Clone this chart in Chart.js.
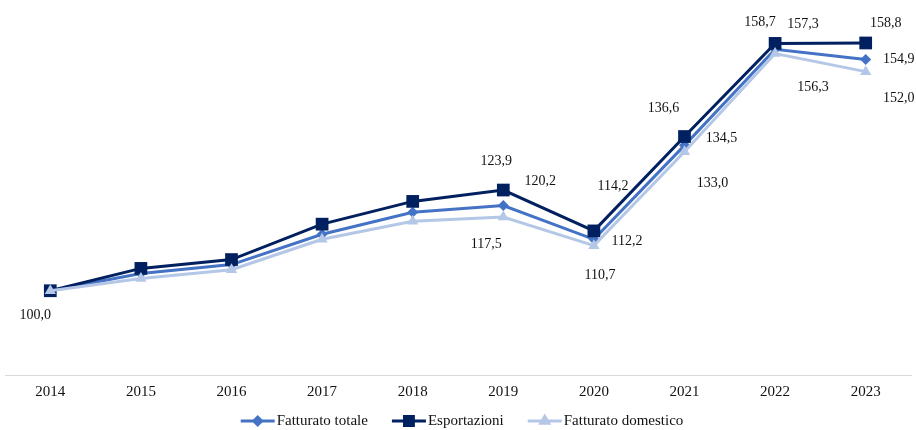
<!DOCTYPE html>
<html>
<head>
<meta charset="utf-8">
<script src="https://cdn.jsdelivr.net/npm/chart.js@4/dist/chart.umd.min.js"></script>
<style>
  html, body { margin: 0; padding: 0; background: #fff; }
  #wrap { width: 916px; height: 430px; }
</style>
</head>
<body>
<div id="wrap"><canvas id="chart" width="916" height="430"></canvas></div>
<script>
// data (index 2014 = 100)
const years = ['2014', '2015', '2016', '2017', '2018', '2019', '2020', '2021', '2022', '2023'];
const fatturatoTotale = [100.0, 104.1, 106.2, 113.4, 118.6, 120.2, 112.2, 134.5, 157.3, 154.9];
const esportazioni = [100.0, 105.3, 107.4, 115.8, 121.2, 123.9, 114.2, 136.6, 158.7, 158.8];
const fatturatoDomestico = [100.0, 102.9, 105.0, 112.2, 116.5, 117.5, 110.7, 133.0, 156.3, 152.0];

// which points carry a value label, and where it sits relative to the point
const labelOffsets = {
  0: { 5: [37, -24], 6: [33, 2], 7: [37, -7], 8: [28, -25], 9: [33, 0] },
  1: { 5: [-7, -29], 6: [19, -45], 7: [-21, -28], 8: [-15, -21], 9: [20, -20] },
  2: { 0: [-15, 25], 5: [-17, 27], 6: [6, 30], 7: [28, 32], 8: [38, 34], 9: [33, 27] }
};

const FONT = "'Liberation Serif', 'Times New Roman', serif";

const valueLabels = {
  id: 'valueLabels',
  afterDatasetsDraw(chart) {
    const ctx = chart.ctx;
    ctx.save();
    ctx.font = '14px ' + FONT;
    ctx.fillStyle = '#111';
    ctx.textAlign = 'center';
    ctx.textBaseline = 'middle';
    chart.data.datasets.forEach((ds, di) => {
      const meta = chart.getDatasetMeta(di);
      const offs = labelOffsets[di] || {};
      Object.keys(offs).forEach(k => {
        const pt = meta.data[k];
        const v = ds.data[k];
        ctx.fillText(v.toFixed(1).replace('.', ','), pt.x + offs[k][0], pt.y + offs[k][1]);
      });
    });
    ctx.restore();
  }
};

// legend drawn by hand: line sample with the marker in the middle
const lineLegend = {
  id: 'lineLegend',
  afterDraw(chart) {
    const ctx = chart.ctx;
    ctx.save();
    ctx.font = '15px ' + FONT;
    ctx.textBaseline = 'middle';
    const sample = 34, gapText = 2, gapItem = 24, y = 421;
    const items = chart.data.datasets.map(ds => ({ ds, w: sample + gapText + ctx.measureText(ds.label).width }));
    const total = items.reduce((s, it) => s + it.w, 0) + gapItem * (items.length - 1);
    let x = chart.width / 2 - total / 2 + 4;
    items.forEach(it => {
      const ds = it.ds;
      ctx.strokeStyle = ds.borderColor;
      ctx.lineWidth = 3;
      ctx.beginPath();
      ctx.moveTo(x, y);
      ctx.lineTo(x + sample, y);
      ctx.stroke();
      Chart.helpers.drawPoint(ctx, {
        pointStyle: ds.pointStyle,
        radius: ds.pointRadius * 0.7,
        borderWidth: 1
      }, x + sample / 2, y);
      ctx.fillStyle = ds.borderColor;
      ctx.fill();
      ctx.fillStyle = '#111';
      ctx.textAlign = 'left';
      ctx.fillText(ds.label, x + sample + gapText, y);
      x += it.w + gapItem;
    });
    ctx.restore();
  }
};

new Chart(document.getElementById('chart'), {
  type: 'line',
  data: {
    labels: years,
    datasets: [
      {
        label: 'Fatturato totale',
        data: fatturatoTotale,
        borderColor: '#4472C4',
        backgroundColor: '#4472C4',
        borderWidth: 3,
        pointStyle: 'rectRot',
        pointRadius: 5.5,
        pointBorderWidth: 0,
        order: 3
      },
      {
        label: 'Esportazioni',
        data: esportazioni,
        borderColor: '#002060',
        backgroundColor: '#002060',
        borderWidth: 3,
        pointStyle: 'rect',
        pointRadius: 9,
        pointBorderWidth: 0,
        order: 2
      },
      {
        label: 'Fatturato domestico',
        data: fatturatoDomestico,
        borderColor: '#B4C7E7',
        backgroundColor: '#B4C7E7',
        borderWidth: 3,
        pointStyle: 'triangle',
        pointRadius: 6.5,
        pointBorderWidth: 0,
        order: 1
      }
    ]
  },
  options: {
    responsive: false,
    animation: false,
    layout: { autoPadding: false, padding: { top: 0, left: 5, right: 5, bottom: 21 } },
    plugins: {
      legend: { display: false },
      tooltip: { enabled: false }
    },
    scales: {
      x: {
        offset: true,
        grid: { display: false, drawTicks: false },
        border: { display: true, color: '#d9d9d9', width: 1 },
        ticks: { color: '#111', font: { family: FONT, size: 15 }, padding: 8, maxRotation: 0 }
      },
      y: {
        display: false,
        min: 80,
        max: 169
      }
    }
  },
  plugins: [valueLabels, lineLegend]
});
</script>
</body>
</html>
